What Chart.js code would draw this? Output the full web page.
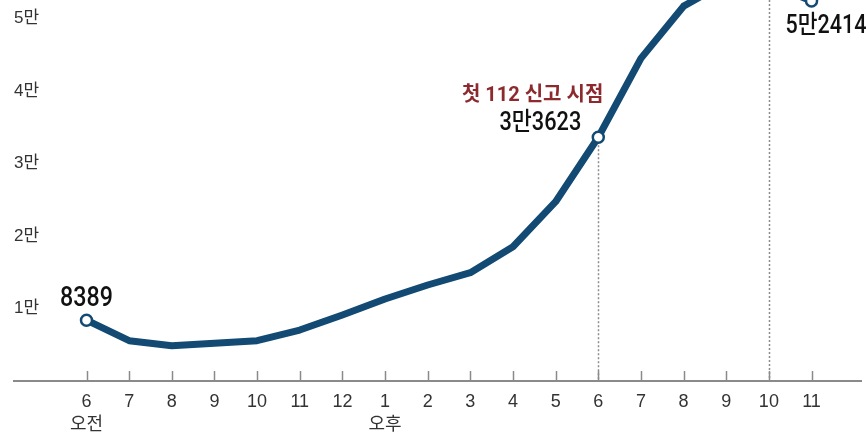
<!DOCTYPE html>
<html lang="ko">
<head>
<meta charset="utf-8">
<script src="https://cdn.jsdelivr.net/npm/chart.js@4"></script>
<style>
  html, body { margin: 0; padding: 0; background: #fff; }
  #wrap { width: 866px; height: 437px; position: relative; }
</style>
</head>
<body>
<div id="wrap"><canvas id="c" width="866" height="437"></canvas></div>
<script>
// Hourly head count, 6 a.m. to 11 p.m.
const hours = [6, 7, 8, 9, 10, 11, 12, 1, 2, 3, 4, 5, 6, 7, 8, 9, 10, 11];
const periodNames = { 0: '오전', 7: '오후' };
const counts = [8389, 5560, 4870, 5200, 5560, 7030, 9100, 11310, 13240, 14940,
                18520, 24730, 33623, 44500, 51700, 55000, 54800, 52414];
const yTickValues = [10000, 20000, 30000, 40000, 50000];
const markedIdx = [0, 12, 17];          // hollow markers with value callouts
const reportIdx = 12;                   // first 112 report
const reportNote = '첫 112 신고 시점';
const guideIdx = [12, 16];              // dotted vertical guides

const NAVY = '#124a73';
const NUM_FONT = 'Roboto, "Noto Sans CJK KR", sans-serif';
const AXIS_FONT = '"Liberation Sans", "Noto Sans CJK KR", sans-serif';

function fmtMan(v) {
  if (v < 10000) return String(v);
  return Math.floor(v / 10000) + '만' + (v % 10000);
}

const decor = {
  id: 'decor',
  beforeDatasetsDraw(chart) {
    const { ctx, scales: { x, y }, chartArea } = chart;
    const axisY = chartArea.bottom;
    ctx.save();
    // small upward tick marks on the time axis
    ctx.strokeStyle = '#8a8a8a';
    ctx.lineWidth = 1.5;
    x.ticks.forEach(t => {
      const px = Math.round(x.getPixelForValue(t.value)) + 0.5;
      ctx.beginPath();
      ctx.moveTo(px, axisY - 10);
      ctx.lineTo(px, axisY);
      ctx.stroke();
    });
    // dotted guides
    ctx.strokeStyle = '#8c8c8c';
    ctx.setLineDash([2, 2]);
    ctx.lineWidth = 1.5;
    guideIdx.forEach(i => {
      const px = Math.round(x.getPixelForValue(i)) + 0.5;
      const top = i === reportIdx ? y.getPixelForValue(counts[i]) : chartArea.top;
      ctx.beginPath();
      ctx.moveTo(px, top);
      ctx.lineTo(px, axisY);
      ctx.stroke();
    });
    ctx.restore();
  },
  afterDatasetsDraw(chart) {
    const { ctx, scales: { x, y } } = chart;
    const put = (text, px, py, font, align, color, sx) => {
      ctx.save();
      ctx.translate(px, py);
      ctx.scale(sx, 1);
      ctx.font = font;
      ctx.fillStyle = color;
      ctx.textAlign = align;
      ctx.textBaseline = 'alphabetic';
      ctx.fillText(text, 0, 0);
      ctx.restore();
    };
    const p0 = { x: x.getPixelForValue(0), y: y.getPixelForValue(counts[0]) };
    put(fmtMan(counts[0]), p0.x, p0.y - 14, '500 27px ' + NUM_FONT, 'center', '#111', 0.86);
    const pr = { x: x.getPixelForValue(reportIdx), y: y.getPixelForValue(counts[reportIdx]) };
    put(fmtMan(counts[reportIdx]), pr.x - 17, pr.y - 7, '500 25px ' + NUM_FONT, 'right', '#111', 0.87);
    put(reportNote, pr.x + 5, pr.y - 36, 'bold 20px ' + NUM_FONT, 'right', '#8c2a2e', 1);
    const last = counts.length - 1;
    const pl = { x: x.getPixelForValue(last), y: y.getPixelForValue(counts[last]) };
    put(fmtMan(counts[last]), pl.x - 26, pl.y + 32, '500 25px ' + NUM_FONT, 'left', '#111', 0.86);
  }
};

new Chart(document.getElementById('c'), {
  type: 'line',
  data: {
    datasets: [{
      data: counts.map((v, i) => ({ x: i, y: v })),
      borderColor: NAVY,
      borderWidth: 7,
      borderJoinStyle: 'round',
      borderCapStyle: 'round',
      tension: 0,
      clip: false,
      pointRadius: ctx => markedIdx.includes(ctx.dataIndex) ? 5.5 : 0,
      pointBackgroundColor: '#fff',
      pointBorderColor: NAVY,
      pointBorderWidth: 2.5
    }]
  },
  options: {
    responsive: false,
    animation: false,
    events: [],
    layout: { autoPadding: false, padding: { left: 14, right: 5, top: 0, bottom: 0 } },
    plugins: { legend: { display: false }, tooltip: { enabled: false } },
    scales: {
      x: {
        type: 'linear',
        min: -1.70,
        max: 18.16,
        afterBuildTicks: s => { s.ticks = hours.map((_, i) => ({ value: i })); },
        afterFit: s => { s.height = 56; s.paddingLeft = 0; s.paddingRight = 0; },
        grid: { display: false, drawTicks: false },
        border: { display: true, color: '#8a8a8a', width: 2 },
        ticks: {
          autoSkip: false,
          maxRotation: 0,
          padding: 9,
          color: '#333',
          font: { family: AXIS_FONT, size: 18, lineHeight: 1.3 },
          callback: (v, i) => periodNames[i] ? [String(hours[i]), periodNames[i]] : String(hours[i])
        }
      },
      y: {
        min: 0,
        max: 52550,
        afterBuildTicks: s => { s.ticks = yTickValues.map(v => ({ value: v })); },
        afterFit: s => { s.width = 0; s.paddingTop = 0; s.paddingBottom = 0; },
        grid: { display: false, drawTicks: false },
        border: { display: false },
        ticks: {
          mirror: true,
          padding: 0,
          color: '#333',
          font: { family: AXIS_FONT, size: 17 },
          callback: v => (v / 10000) + '만'
        }
      }
    }
  },
  plugins: [decor]
});
</script>
</body>
</html>
